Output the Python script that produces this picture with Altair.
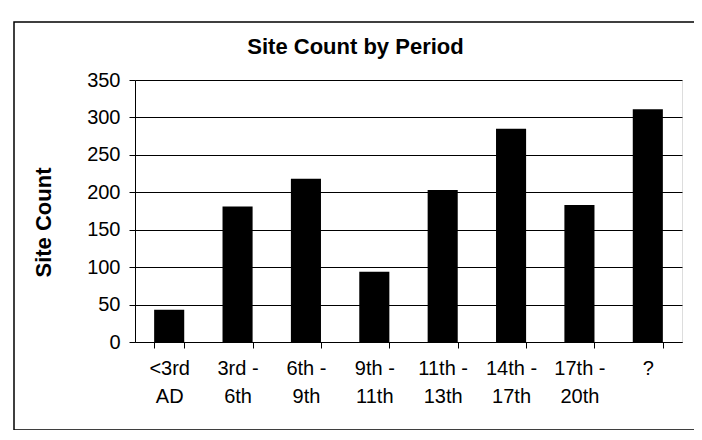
import altair as alt
import pandas as pd

# ---- data ----
periods = ["<3rd\nAD", "3rd -\n6th", "6th -\n9th", "9th -\n11th",
           "11th -\n13th", "14th -\n17th", "17th -\n20th", "?"]
site_counts = [43, 181, 218, 94, 203, 285, 183, 311]
y_ticks = [0, 50, 100, 150, 200, 250, 300, 350]

df = pd.DataFrame({"period": periods, "count": site_counts})
frame_df = pd.DataFrame({"k": [0]})

FONT = "Liberation Sans"

bars = alt.Chart(df).mark_bar(color="black").encode(
    x=alt.X(
        "period:N",
        sort=periods,
        title=None,
        scale=alt.Scale(paddingInner=0.56, paddingOuter=0.28),
        axis=alt.Axis(
            labelAngle=0,
            labelExpr="split(datum.label, '\\n')",
            tickBand="extent",
            labelFont=FONT,
            labelFontSize=20,
            labelColor="black",
            labelPadding=10,
            labelLineHeight=28,
            labelBaseline="top",
            domainColor="black",
            domainWidth=1,
            tickColor="black",
            tickSize=6,
            grid=False,
        ),
    ),
    y=alt.Y(
        "count:Q",
        scale=alt.Scale(domain=[0, 350], nice=False),
        axis=alt.Axis(
            values=y_ticks,
            title="Site Count",
            titleFont=FONT,
            titleFontSize=22,
            titleFontWeight="bold",
            titleColor="black",
            titleX=-92,
            titleY=142,
            titleAlign="center",
            titleBaseline="middle",
            labelFont=FONT,
            labelFontSize=20,
            labelColor="black",
            labelPadding=9,
            domainColor="black",
            tickColor="black",
            tickSize=6,
            grid=True,
            gridColor="black",
            gridWidth=1,
        ),
    ),
)

frame = alt.Chart(frame_df).mark_rect(
    filled=False, stroke="black", strokeWidth=1.5
).encode(
    x=alt.value(-121), x2=alt.value(563),
    y=alt.value(-58), y2=alt.value(350),
)

chart = alt.layer(frame, bars).properties(
    width=547,
    height=262,
    title=alt.TitleParams(
        "Site Count by Period",
        font=FONT,
        fontSize=22,
        fontWeight="bold",
        color="black",
        anchor="middle",
        frame="group",
        dx=-53,
        baseline="alphabetic",
        offset=-55,
    ),
    padding={"left": 127, "top": 72, "right": 12, "bottom": 88},
    autosize=alt.AutoSizeParams(type="none"),
).configure_view(
    stroke="black", strokeWidth=1
).configure(background="white")

chart.save("out.html", embed_options={"renderer": "svg", "actions": False})
